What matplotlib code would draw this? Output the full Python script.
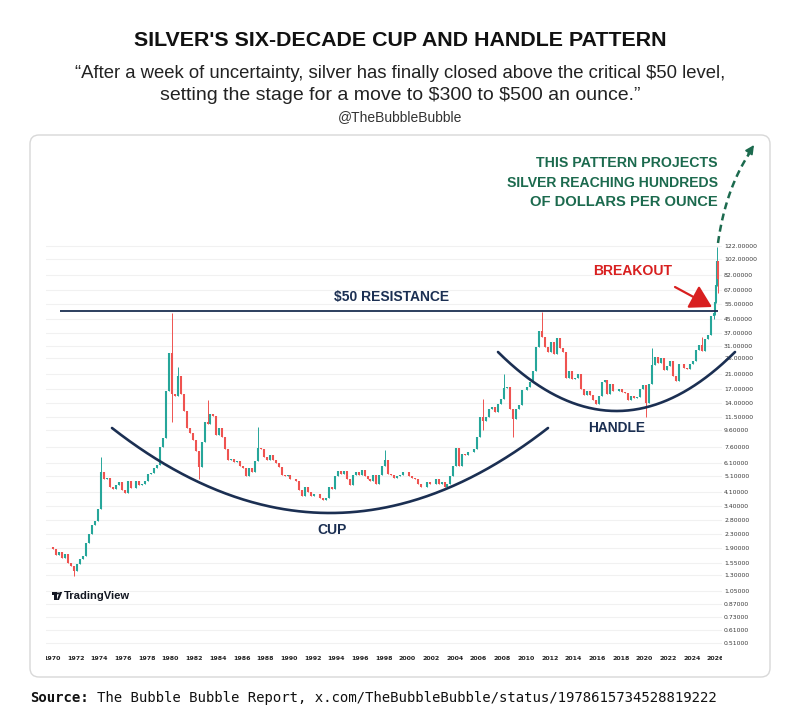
import numpy as np
import matplotlib
matplotlib.use("Agg")
import matplotlib.pyplot as plt
from matplotlib.patches import FancyBboxPatch, Polygon, Circle, Rectangle
from matplotlib.ticker import NullLocator

# ---------------- data ----------------
OPEN_1970 = 1.92
QUARTERLY_CLOSES = [
    1.88, 1.72, 1.80, 1.64,      # 1970
    1.75, 1.55, 1.48, 1.38,      # 1971
    1.52, 1.62, 1.70, 2.04,      # 1972
    2.30, 2.62, 2.75, 3.25,      # 1973
    5.40, 4.90, 4.95, 4.40,      # 1974
    4.30, 4.55, 4.70, 4.20,      # 1975
    4.05, 4.75, 4.35, 4.35,      # 1976
    4.75, 4.50, 4.60, 4.80,      # 1977
    5.25, 5.35, 5.75, 6.00,      # 1978
    7.60, 8.60, 16.50, 28.00,    # 1979
    16.00, 15.50, 20.50, 16.00,  # 1980
    12.50, 10.00, 9.30, 8.40,    # 1981
    7.20, 5.80, 8.20, 10.80,     # 1982
    10.50, 12.00, 11.70, 9.00,   # 1983
    9.90, 8.80, 7.40, 6.40,      # 1984
    6.50, 6.20, 6.30, 5.90,      # 1985
    5.70, 5.10, 5.70, 5.40,      # 1986
    6.30, 7.50, 7.40, 6.70,      # 1987
    6.40, 6.80, 6.40, 6.10,      # 1988
    5.80, 5.20, 5.10, 5.20,      # 1989
    4.90, 4.90, 4.80, 4.20,      # 1990
    3.90, 4.40, 4.10, 3.90,      # 1991
    4.00, 4.00, 3.80, 3.70,      # 1992
    3.80, 4.40, 4.30, 5.10,      # 1993
    5.50, 5.30, 5.50, 4.90,      # 1994
    4.50, 5.20, 5.40, 5.20,      # 1995
    5.60, 5.10, 4.90, 4.80,      # 1996
    5.20, 4.60, 5.20, 5.90,      # 1997
    6.40, 5.30, 5.20, 5.00,      # 1998
    5.10, 5.20, 5.40, 5.40,      # 1999
    5.10, 5.00, 4.90, 4.60,      # 2000
    4.40, 4.40, 4.70, 4.60,      # 2001
    4.60, 4.90, 4.60, 4.70,      # 2002
    4.40, 4.60, 5.10, 5.90,      # 2003
    7.50, 5.90, 6.90, 6.80,      # 2004
    7.10, 7.10, 7.40, 8.80,      # 2005
    11.50, 10.90, 11.50, 12.90,  # 2006
    13.30, 12.40, 13.80, 14.80,  # 2007
    17.20, 17.50, 12.90, 11.30,  # 2008
    13.00, 13.70, 16.70, 16.90,  # 2009
    17.50, 18.70, 21.80, 30.60,  # 2010
    37.90, 34.80, 30.50, 28.20,  # 2011
    32.50, 27.60, 34.60, 30.00,  # 2012
    28.40, 19.70, 21.70, 19.50,  # 2013
    19.80, 21.00, 17.10, 15.60,  # 2014
    16.60, 15.60, 14.60, 13.80,  # 2015
    15.40, 18.70, 19.20, 16.00,  # 2016
    18.20, 16.60, 16.60, 17.00,  # 2017
    16.30, 16.10, 14.70, 15.50,  # 2018
    15.10, 15.30, 17.00, 17.90,  # 2019
    14.00, 18.20, 23.60, 26.40,  # 2020
    24.50, 26.00, 22.20, 23.30,  # 2021
    25.00, 20.30, 19.00, 24.00,  # 2022
    24.10, 22.80, 22.30, 24.10,  # 2023
    24.90, 29.10, 31.10, 28.90,  # 2024
    34.00, 36.00, 46.50,         # 2025 Q1-Q3
]
# intra-quarter extremes visible as wicks: (year, quarter) -> (high, low)
EXTREMES = {
    (1971, 4): (None, 1.29), (1974, 1): (6.70, None), (1980, 1): (48.5, 10.8),
    (1980, 3): (23.0, None), (1982, 2): (None, 4.90), (1983, 1): (14.7, None),
    (1987, 2): (10.1, None), (1998, 1): (7.30, None), (2006, 2): (14.9, 9.60),
    (2008, 1): (20.9, None), (2008, 4): (None, 8.80), (2011, 2): (49.5, None),
    (2020, 1): (None, 11.6), (2020, 3): (29.8, None), (2024, 4): (34.8, None),
}
# final breakout candles (late 2025 / early 2026)
TAIL_DATES = [2025.83, 2025.92, 2026.00, 2026.08, 2026.17]
TAIL_CLOSES = [48.5, 56.5, 71.5, 100.0, 78.0]
TAIL_HIGHS = [50.0, 58.0, 80.0, 121.0, 100.0]
TAIL_LOWS = [45.0, 47.0, 56.0, 71.0, 64.0]

RESISTANCE = 50.0
PRICE_TICKS = [122, 102, 82, 67, 55, 45, 37, 31, 26, 21, 17, 14, 11.5, 9.6, 7.6,
               6.1, 5.1, 4.1, 3.4, 2.8, 2.3, 1.9, 1.55, 1.3, 1.05, 0.87, 0.73, 0.61, 0.51]
YEAR_TICKS = list(range(1970, 2027, 2))

TITLE = "SILVER'S SIX-DECADE CUP AND HANDLE PATTERN"
QUOTE1 = "\u201cAfter a week of uncertainty, silver has finally closed above the critical \\$50 level,"
QUOTE2 = "setting the stage for a move to \\$300 to \\$500 an ounce.\u201d"
HANDLE_TXT = "@TheBubbleBubble"
PROJ_LINES = ["THIS PATTERN PROJECTS", "SILVER REACHING HUNDREDS", "OF DOLLARS PER OUNCE"]
SOURCE_LABEL = "Source:"
SOURCE_TXT = "The Bubble Bubble Report, x.com/TheBubbleBubble/status/1978615734528819222"

# ---------------- styling ----------------
W, H = 800, 725
NAVY = "#1b2f52"
GREEN_TXT = "#1c6a4e"
RED_TXT = "#d81f1f"
UP = "#26a69a"
DOWN = "#ef5350"
SANS = ["Liberation Sans", "DejaVu Sans"]

fig = plt.figure(figsize=(8, 7.25), dpi=100)
fig.patch.set_facecolor("white")

bg = fig.add_axes([0, 0, 1, 1], zorder=0)
bg.set_xlim(0, W); bg.set_ylim(H, 0); bg.axis("off")
bg.add_patch(FancyBboxPatch((30, 135), 740, 542, boxstyle="round,pad=0,rounding_size=9",
                            fc="white", ec="#d8d8d8", lw=1.0))

# pixel calibration of the chart area
PX_PER_YEAR = 11.85
X1970 = 52.0
def px_to_year(px):
    return 1970 + (px - X1970) / PX_PER_YEAR
def py_to_price(py):
    return 0.51 * np.exp((643 - py) / 72.4)

L, R, T, B = 46, 722, 140, 650
ax = fig.add_axes([L / W, (H - B) / H, (R - L) / W, (B - T) / H], zorder=1)
ax.patch.set_alpha(0)
ax.set_yscale("log")
ax.set_xlim(px_to_year(L), px_to_year(R))
ax.set_ylim(py_to_price(B), py_to_price(T))
for s in ax.spines.values():
    s.set_visible(False)

ax.yaxis.tick_right()
ax.set_yticks(PRICE_TICKS)
ax.set_yticklabels([f"{v:.5f}" for v in PRICE_TICKS])
ax.yaxis.set_minor_locator(NullLocator())
ax.tick_params(axis="y", length=0, pad=1.5, labelsize=4.4, labelcolor="#3a3a3a")
ax.set_xticks(YEAR_TICKS)
ax.set_xticklabels([str(y) for y in YEAR_TICKS], fontweight="bold")
ax.xaxis.set_minor_locator(NullLocator())
ax.tick_params(axis="x", length=0, pad=4.5, labelsize=4.5, labelcolor="#222222")
ax.grid(axis="y", color="#f1f1f1", lw=0.8, zorder=0)

# candles
dates, opens, closes, highs, lows = [], [], [], [], []
prev = OPEN_1970
for i, c in enumerate(QUARTERLY_CLOSES):
    yr, q = 1970 + i // 4, i % 4 + 1
    hi, lo = max(prev, c), min(prev, c)
    ext = EXTREMES.get((yr, q))
    if ext:
        if ext[0] is not None:
            hi = max(hi, ext[0])
        if ext[1] is not None:
            lo = min(lo, ext[1])
    dates.append(yr + (q - 0.5) / 4)
    opens.append(prev); closes.append(c); highs.append(hi); lows.append(lo)
    prev = c
for d, c, hi, lo in zip(TAIL_DATES, TAIL_CLOSES, TAIL_HIGHS, TAIL_LOWS):
    dates.append(d); opens.append(prev); closes.append(c); highs.append(hi); lows.append(lo)
    prev = c
dates = np.array(dates); opens = np.array(opens); closes = np.array(closes)
highs = np.array(highs); lows = np.array(lows)
cols = np.where(closes >= opens, UP, DOWN)
ax.vlines(dates, lows, highs, colors=cols, lw=0.7, zorder=2)
ax.vlines(dates, np.minimum(opens, closes), np.maximum(opens, closes), colors=cols, lw=1.5, zorder=3)

# resistance line
ax.hlines(RESISTANCE, px_to_year(60), px_to_year(718), color=NAVY, lw=1.3, zorder=4)

# ---------------- overlay annotations (pixel space) ----------------
ov = fig.add_axes([0, 0, 1, 1], zorder=3)
ov.set_xlim(0, W); ov.set_ylim(H, 0); ov.axis("off")
ov.patch.set_alpha(0)

# the time scale is cut at the plot's edges (as in TradingView)
ov.add_patch(Rectangle((31.5, 651), L - 31.5, 14, fc="white", ec="none"))
ov.add_patch(Rectangle((R, 651), 40, 14, fc="white", ec="none"))

# cup and handle arcs
xs = np.linspace(112, 548, 300); t = (xs - 330) / 218
ov.plot(xs, 428 + 85 * (1 - t ** 2), color=NAVY, lw=1.9, solid_capstyle="round")
xs = np.linspace(498, 735, 300); t = (xs - 616.5) / 118.5
ov.plot(xs, 352 + 59 * (1 - t ** 2), color=NAVY, lw=1.9, solid_capstyle="round")

# breakout arrow
ov.annotate("", xy=(712, 307), xytext=(675, 287),
            arrowprops=dict(arrowstyle="-|>,head_length=0.6,head_width=0.35", color=RED_TXT,
                            lw=1.6, mutation_scale=22, shrinkA=0, shrinkB=0))
# projection dashed arrow
s = np.linspace(0, 0.93, 100)
P0, P1, P2 = np.array([718, 243]), np.array([726, 186]), np.array([753, 148])
curve = ((1 - s) ** 2)[:, None] * P0 + (2 * (1 - s) * s)[:, None] * P1 + (s ** 2)[:, None] * P2
ov.plot(curve[:, 0], curve[:, 1], color=GREEN_TXT, lw=1.8, dashes=(2.8, 1.8))
ov.annotate("", xy=(754, 145), xytext=(748, 154),
            arrowprops=dict(arrowstyle="-|>", color=GREEN_TXT, lw=1.2, mutation_scale=13,
                            shrinkA=0, shrinkB=0))

texts = []
def put(x, y, s, target, ha="center", **kw):
    kw.setdefault("family", SANS)
    t = ov.text(x, y, s, ha=ha, va="center", fontsize=10, **kw)
    texts.append((t, target))
    return t

put(400, 40, TITLE, 533, fontweight="bold", color="#111111")
put(400, 73, QUOTE1, 650, color="#222222")
put(400, 95, QUOTE2, 482, color="#222222")
put(400, 117, HANDLE_TXT, 124, color="#333333")
put(392, 297, "$50 RESISTANCE".replace("$", "\\$"), 116, fontweight="bold", color=NAVY)
put(332, 530, "CUP", 29, fontweight="bold", color=NAVY)
put(617, 428, "HANDLE", 57, fontweight="bold", color=NAVY)
put(633, 271, "BREAKOUT", 79, fontweight="bold", color=RED_TXT)
for yy, line, wd in zip([163, 183, 202], PROJ_LINES, [180, 212, 187]):
    put(718, yy, line, wd, ha="right", fontweight="bold", color=GREEN_TXT)
put(64, 596, "TradingView", 66, ha="left", fontweight="bold", color="#131722")

# TradingView logo mark
ov.add_patch(Polygon([[51.5, 592], [56.5, 592], [56.5, 600], [54.3, 600], [54.3, 594.6], [51.5, 594.6]],
                     closed=True, fc="#131722", ec="none"))
ov.add_patch(Circle((58.0, 593.4), 1.1, fc="#131722", ec="none"))
ov.add_patch(Polygon([[59.6, 592], [62.2, 592], [58.9, 600], [56.9, 600]], closed=True,
                     fc="#131722", ec="none"))

src_b = ov.text(30, 698, SOURCE_LABEL, ha="left", va="center", fontsize=10.5,
                family="DejaVu Sans Mono", fontweight="bold", color="#111111")
src_r = ov.text(30, 698, SOURCE_TXT, ha="left", va="center", fontsize=10.5,
                family="DejaVu Sans Mono", color="#111111")

renderer = fig.canvas.get_renderer()
for _ in range(3):
    for t, target in texts:
        w = t.get_window_extent(renderer).width
        if w > 0:
            t.set_fontsize(t.get_fontsize() * target / w)
# source line scale to total width 687
for _ in range(2):
    wb = src_b.get_window_extent(renderer).width
    n = len(SOURCE_LABEL)
    cw = wb / n
    total = cw * (n + 1 + len(SOURCE_TXT))
    fs = src_b.get_fontsize() * 687 / total
    src_b.set_fontsize(fs); src_r.set_fontsize(fs)
cw = src_b.get_window_extent(renderer).width / len(SOURCE_LABEL)
src_r.set_x(30 + cw * (len(SOURCE_LABEL) + 1))

fig.savefig("out.png", dpi=100, facecolor="white")
